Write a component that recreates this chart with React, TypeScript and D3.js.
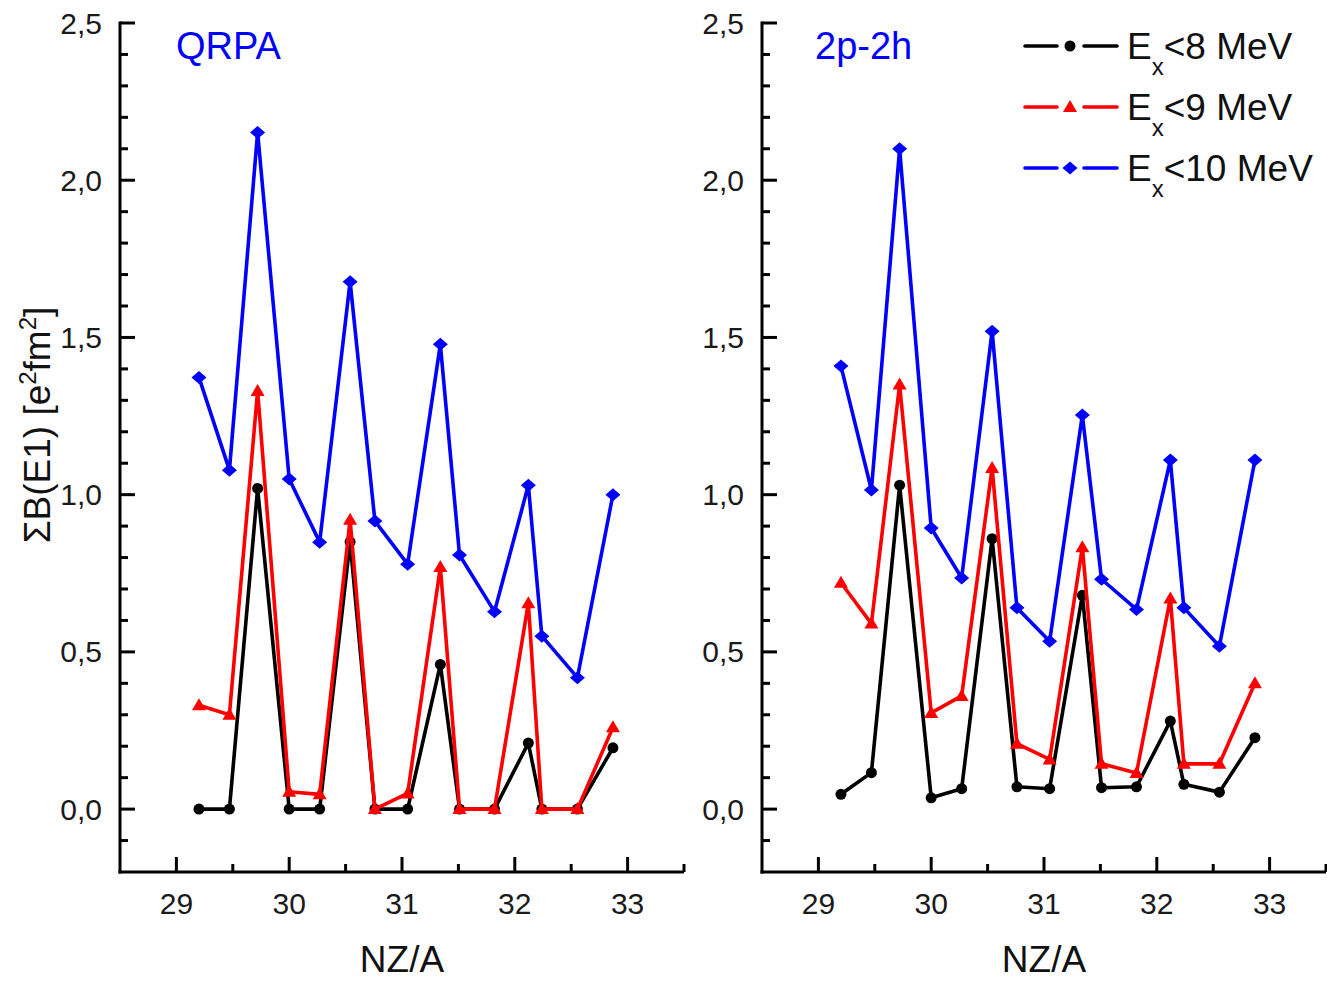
import React from "react";
import * as d3 from "d3";

const xValues = [29.2, 29.47, 29.72, 30.0, 30.27, 30.54, 30.76, 31.05, 31.34, 31.51, 31.82, 32.12, 32.24, 32.555, 32.87];

const qrpaEx8 = [0, 0, 1.02, 0, 0, 0.85, 0, 0, 0.46, 0, 0, 0.21, 0, 0, 0.195];
const qrpaEx9 = [0.33, 0.30, 1.33, 0.055, 0.047, 0.92, 0, 0.05, 0.77, 0, 0, 0.655, 0, 0, 0.26];
const qrpaEx10 = [1.373, 1.078, 2.152, 1.05, 0.849, 1.677, 0.916, 0.779, 1.478, 0.808, 0.628, 1.03, 0.55, 0.418, 1.0];

const tphEx8 = [0.047, 0.116, 1.03, 0.036, 0.065, 0.86, 0.071, 0.065, 0.68, 0.068, 0.071, 0.28, 0.079, 0.054, 0.227];
const tphEx9 = [0.72, 0.59, 1.35, 0.306, 0.36, 1.085, 0.208, 0.158, 0.833, 0.144, 0.115, 0.67, 0.144, 0.144, 0.40];
const tphEx10 = [1.409, 1.015, 2.10, 0.894, 0.735, 1.52, 0.64, 0.534, 1.253, 0.731, 0.635, 1.11, 0.64, 0.518, 1.11];

const xMajorTicks = [29, 30, 31, 32, 33];
const xMinorTicks = [29.5, 30.5, 31.5, 32.5, 33.5];
const yMajorTicks = [0, 0.5, 1.0, 1.5, 2.0, 2.5];
const yMinorTicks = [-0.1, 0.1, 0.2, 0.3, 0.4, 0.6, 0.7, 0.8, 0.9, 1.1, 1.2, 1.3, 1.4, 1.6, 1.7, 1.8, 1.9, 2.1, 2.2, 2.3, 2.4];

const seriesNames = ["<8 MeV", "<9 MeV", "<10 MeV"];
const seriesColors = ["#000000", "#ff0000", "#0000ff"];
const seriesShapes = ["circle", "triangle", "diamond"];

const panelTitles = ["QRPA", "2p-2h"];

const FONT = "'Liberation Sans', Arial, Helvetica, sans-serif";

const fmt = (v: number) => d3.format(".1f")(v).replace(".", ",");

function Marker({ shape, x, y, color }: { shape: string; x: number; y: number; color: string }) {
  if (shape === "circle") return <circle cx={x} cy={y} r={5.5} fill={color} />;
  if (shape === "triangle")
    return <path d={`M${x},${y - 7} L${x + 7},${y + 5} L${x - 7},${y + 5} Z`} fill={color} />;
  return <path d={`M${x},${y - 6.5} L${x + 7.5},${y} L${x},${y + 6.5} L${x - 7.5},${y} Z`} fill={color} />;
}

function Panel({ left, title, titleOffset, series, showLegend, showYTitle }: any) {
  const width = 564;
  const top = 23;
  const bottom = 872;
  const x = d3.scaleLinear().domain([28.5, 33.5]).range([left, left + width]);
  const y = d3.scaleLinear().domain([-0.2, 2.5]).range([bottom, top]);
  const line = d3
    .line<number>()
    .x((_, i) => x(xValues[i]))
    .y((d) => y(d));

  return (
    <g>
      {series.map((vals: number[], si: number) => (
        <g key={si}>
          <path d={line(vals) || ""} fill="none" stroke={seriesColors[si]} strokeWidth={3.6} strokeLinejoin="round" />
          {vals.map((v, i) => (
            <Marker key={i} shape={seriesShapes[si]} x={x(xValues[i])} y={y(v)} color={seriesColors[si]} />
          ))}
        </g>
      ))}
      <line x1={left} x2={left} y1={top - 1.5} y2={bottom + 1.5} stroke="#000" strokeWidth={3} />
      <line x1={left - 1.5} x2={left + width} y1={bottom} y2={bottom} stroke="#000" strokeWidth={3} />
      {yMajorTicks.map((t) => (
        <g key={"ym" + t}>
          <line x1={left} x2={left + 15} y1={y(t)} y2={y(t)} stroke="#000" strokeWidth={3} />
          <text x={left - 18} y={y(t)} dy="0.35em" textAnchor="end" fontSize={30} fontFamily={FONT} fill="#1a1a1a">
            {fmt(t)}
          </text>
        </g>
      ))}
      {yMinorTicks.map((t) => (
        <line key={"yn" + t} x1={left} x2={left + 8} y1={y(t)} y2={y(t)} stroke="#000" strokeWidth={3} />
      ))}
      {xMajorTicks.map((t) => (
        <g key={"xm" + t}>
          <line x1={x(t)} x2={x(t)} y1={bottom} y2={bottom - 15} stroke="#000" strokeWidth={3} />
          <text x={x(t)} y={914} textAnchor="middle" fontSize={30} fontFamily={FONT} fill="#1a1a1a">
            {t}
          </text>
        </g>
      ))}
      {xMinorTicks.map((t) => (
        <line key={"xn" + t} x1={x(t)} x2={x(t)} y1={bottom} y2={bottom - 8} stroke="#000" strokeWidth={3} />
      ))}
      <text x={x(31)} y={972} textAnchor="middle" fontSize={37} fontFamily={FONT} fill="#111">
        NZ/A
      </text>
      <text x={left + titleOffset} y={59} fontSize={38} fontFamily={FONT} fill="#0000ff">
        {title}
      </text>
      {showYTitle && (
        <text
          transform={`translate(${left - 70},425) rotate(-90)`}
          textAnchor="middle"
          fontSize={37}
          fontFamily={FONT}
          fill="#111"
        >
          ΣB(E1) [e<tspan dy="-14" fontSize={24}>2</tspan>
          <tspan dy="14">fm</tspan>
          <tspan dy="-14" fontSize={24}>2</tspan>
          <tspan dy="14">]</tspan>
        </text>
      )}
      {showLegend &&
        seriesNames.map((name, si) => {
          const ly = 46 + si * 61;
          return (
            <g key={"lg" + si}>
              <line x1={1025} x2={1057} y1={ly} y2={ly} stroke={seriesColors[si]} strokeWidth={3.6} strokeLinecap="round" />
              <line x1={1084} x2={1117} y1={ly} y2={ly} stroke={seriesColors[si]} strokeWidth={3.6} strokeLinecap="round" />
              <Marker shape={seriesShapes[si]} x={1070} y={ly} color={seriesColors[si]} />
              <text x={1127} y={ly + 13} fontSize={37} fontFamily={FONT} fill="#111">
                E<tspan dy="16" fontSize={24}>x</tspan>
                <tspan dy="-16">{name}</tspan>
              </text>
            </g>
          );
        })}
    </g>
  );
}

export default function App() {
  return (
    <svg width={1327} height={981} style={{ position: "absolute", left: 0, top: 0, background: "#fff" }}>
      <rect width={1327} height={981} fill="#fff" />
      <Panel left={120} title={panelTitles[0]} titleOffset={56} series={[qrpaEx8, qrpaEx9, qrpaEx10]} showYTitle />
      <Panel left={762} title={panelTitles[1]} titleOffset={53} series={[tphEx8, tphEx9, tphEx10]} showLegend />
    </svg>
  );
}
